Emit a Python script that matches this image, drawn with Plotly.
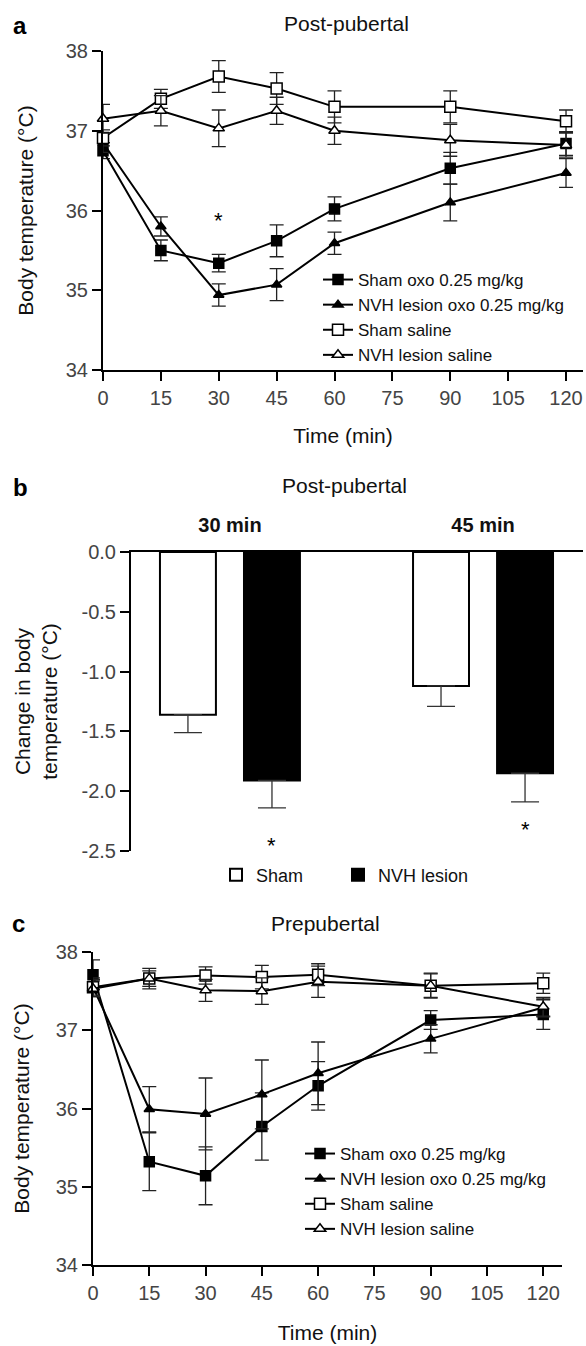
import plotly.graph_objects as go

W, H = 586, 1346
FONT = "Liberation Sans, Arial, sans-serif"

# ---------------- data ----------------
time_min = [0, 15, 30, 45, 60, 90, 120]
x_ticks = [0, 15, 30, 45, 60, 75, 90, 105, 120]
series_names = ["Sham oxo 0.25 mg/kg", "NVH lesion oxo 0.25 mg/kg", "Sham saline", "NVH lesion saline"]

# Panel a: Post-pubertal (body temperature, degC)
a_sham_oxo = [36.75, 35.50, 35.34, 35.62, 36.02, 36.53, 36.84]
a_sham_oxo_err = [0.10, 0.13, 0.11, 0.20, 0.15, 0.20, 0.15]
a_nvh_oxo = [36.85, 35.80, 34.94, 35.07, 35.59, 36.10, 36.47]
a_nvh_oxo_err = [0.12, 0.12, 0.14, 0.20, 0.14, 0.23, 0.18]
a_sham_sal = [36.91, 37.40, 37.68, 37.53, 37.30, 37.30, 37.12]
a_sham_sal_err = [0.10, 0.12, 0.20, 0.20, 0.20, 0.20, 0.14]
a_nvh_sal = [37.15, 37.25, 37.03, 37.25, 37.00, 36.88, 36.82]
a_nvh_sal_err = [0.18, 0.19, 0.23, 0.17, 0.17, 0.20, 0.15]
a_star_x, a_star_y = 30, 35.87

# Panel b: Post-pubertal change in body temperature
b_groups = ["30 min", "45 min"]
b_names = ["Sham", "NVH lesion"]
b_sham = [-1.36, -1.12]
b_sham_err = [0.15, 0.17]
b_nvh = [-1.91, -1.85]
b_nvh_err = [0.23, 0.24]
b_star_y = [-2.45, -2.32]
b_yticks = [0.0, -0.5, -1.0, -1.5, -2.0, -2.5]

# Panel c: Prepubertal
c_sham_oxo = [37.71, 35.32, 35.14, 35.77, 36.29, 37.13, 37.20]
c_sham_oxo_err = [0.19, 0.37, 0.37, 0.43, 0.31, 0.12, 0.19]
c_nvh_oxo = [37.55, 35.99, 35.93, 36.18, 36.45, 36.89, 37.29]
c_nvh_oxo_err = [0.12, 0.29, 0.46, 0.44, 0.40, 0.18, 0.12]
c_sham_sal = [37.55, 37.66, 37.70, 37.68, 37.71, 37.57, 37.60]
c_sham_sal_err = [0.10, 0.13, 0.11, 0.15, 0.14, 0.16, 0.13]
c_nvh_sal = [37.53, 37.66, 37.51, 37.50, 37.62, 37.57, 37.30]
c_nvh_sal_err = [0.10, 0.10, 0.14, 0.17, 0.20, 0.15, 0.12]

# ---------------- helpers ----------------
def px_x(p):
    return p / W

def px_y(p):
    return 1 - p / H

STYLES = [
    dict(symbol="square", color="black", size=10),
    dict(symbol="triangle-up", color="black", size=9),
    dict(symbol="square", color="white", size=11),
    dict(symbol="triangle-up", color="white", size=10),
]

fig = go.Figure()

def add_panel(ys, errs, xa, ya, legend):
    for name, y, e, st in zip(series_names, ys, errs, STYLES):
        fig.add_trace(go.Scatter(
            x=time_min, y=y, name=name, mode="lines+markers",
            xaxis=xa, yaxis=ya, legend=legend, cliponaxis=False,
            line=dict(color="black", width=2),
            marker=dict(symbol=st["symbol"], size=st["size"], color=st["color"],
                        line=dict(color="black", width=1.5)),
            error_y=dict(type="data", array=e, visible=True, color="#222",
                         thickness=1.3, width=7),
        ))

add_panel([a_sham_oxo, a_nvh_oxo, a_sham_sal, a_nvh_sal],
          [a_sham_oxo_err, a_nvh_oxo_err, a_sham_sal_err, a_nvh_sal_err], "x", "y", "legend")
add_panel([c_sham_oxo, c_nvh_oxo, c_sham_sal, c_nvh_sal],
          [c_sham_oxo_err, c_nvh_oxo_err, c_sham_sal_err, c_nvh_sal_err], "x3", "y3", "legend2")

BARGAP = 0.336
for name, vals, errs, col, lg in zip(b_names, [b_sham, b_nvh], [b_sham_err, b_nvh_err],
                                     ["white", "black"], ["legend3", "legend4"]):
    fig.add_trace(go.Bar(
        x=b_groups, y=vals, name=name, xaxis="x2", yaxis="y2", legend=lg,
        marker=dict(color=col, line=dict(color="black", width=2)),
        error_y=dict(type="data", symmetric=False, array=[0] * len(vals), arrayminus=errs,
                     visible=True, color="#333", thickness=1.3, width=14),
    ))

tickfont = dict(family=FONT, size=20, color="#444")
axis_common = dict(showline=True, linecolor="black", linewidth=2, ticks="outside", ticklen=9,
                   tickwidth=2, tickcolor="black", showgrid=False, zeroline=False, tickfont=tickfont,
                   automargin=False)
title_font = dict(family=FONT, size=21, color="#111")
leg_b = dict(yanchor="middle", xanchor="left", orientation="h", bgcolor="rgba(0,0,0,0)",
             font=dict(family=FONT, size=18, color="#111"))

fig.update_layout(
    width=W, height=H, margin=dict(l=0, r=0, t=0, b=0, autoexpand=False),
    paper_bgcolor="white", plot_bgcolor="white",
    font=dict(family=FONT, color="black"),
    barmode="group", bargap=BARGAP, bargroupgap=0.334,
    xaxis=dict(axis_common, domain=[px_x(103), px_x(583)], range=[0, 124.4], tickvals=x_ticks,
               anchor="y", title=dict(text="Time (min)", font=title_font, standoff=20)),
    yaxis=dict(axis_common, domain=[px_y(370), px_y(51)], range=[34, 38], dtick=1, anchor="x",
               title=dict(text="Body temperature (°C)", font=title_font, standoff=26)),
    xaxis2=dict(showline=True, linecolor="black", linewidth=2, ticks="", showgrid=False, zeroline=False,
                type="category", side="top", range=[-0.391, 1.395], anchor="y2", automargin=False,
                domain=[px_x(131), px_x(583)], ticklabelstandoff=10,
                tickfont=dict(family=FONT, size=20, color="#111", weight="bold")),
    yaxis2=dict(axis_common, domain=[px_y(851), px_y(552)], range=[-2.5, 0], anchor="x2",
                tickvals=b_yticks, ticktext=[f"{v:.1f}" for v in b_yticks],
                title=dict(text="Change in body<br>temperature (°C)", font=title_font, standoff=18)),
    xaxis3=dict(axis_common, domain=[px_x(93), px_x(562)], range=[0, 125], tickvals=x_ticks,
                anchor="y3", title=dict(text="Time (min)", font=title_font, standoff=22)),
    yaxis3=dict(axis_common, domain=[px_y(1265), px_y(952)], range=[34, 38], dtick=1, anchor="x3",
                title=dict(text="Body temperature (°C)", font=title_font, standoff=20)),
    legend=dict(x=px_x(318), y=px_y(262), xanchor="left", yanchor="top", bgcolor="rgba(0,0,0,0)",
                font=dict(family=FONT, size=17, color="#111"), itemwidth=30, tracegroupgap=0),
    legend2=dict(x=px_x(300), y=px_y(1136), xanchor="left", yanchor="top", bgcolor="rgba(0,0,0,0)",
                 font=dict(family=FONT, size=17, color="#111"), itemwidth=30, tracegroupgap=0),
    legend3=dict(leg_b, x=px_x(216), y=px_y(875)),
    legend4=dict(leg_b, x=px_x(338), y=px_y(875)),
    showlegend=True,
)

ann = []
for letter, (lx, ly) in zip(["a", "b", "c"], [(20, 25), (20, 487), (18, 923)]):
    ann.append(dict(text=f"<b>{letter}</b>", x=px_x(lx), y=px_y(ly), xref="paper", yref="paper",
                    xanchor="center", yanchor="middle",
                    showarrow=False, font=dict(family=FONT, size=24, color="black")))
for t, (tx, ty) in zip(["Post-pubertal", "Post-pubertal", "Prepubertal"], [(346, 23), (344, 485), (325, 923)]):
    ann.append(dict(text=t, x=px_x(tx), y=px_y(ty), xref="paper", yref="paper", showarrow=False,
                    xanchor="center", yanchor="middle",
                    font=dict(family=FONT, size=21, color="#111")))
ann.append(dict(text="*", x=a_star_x, y=a_star_y, xref="x", yref="y", showarrow=False,
                font=dict(family=FONT, size=22, color="black")))
offset = (1 - BARGAP) / 4
for i, sy in enumerate(b_star_y):
    ann.append(dict(text="*", x=i + offset, y=sy, xref="x2", yref="y2", showarrow=False,
                    font=dict(family=FONT, size=22, color="black")))
fig.update_layout(annotations=ann)

fig.write_html("out.html", config={"displayModeBar": False},
               post_script="document.body.style.margin='0';document.body.style.overflow='hidden';")
